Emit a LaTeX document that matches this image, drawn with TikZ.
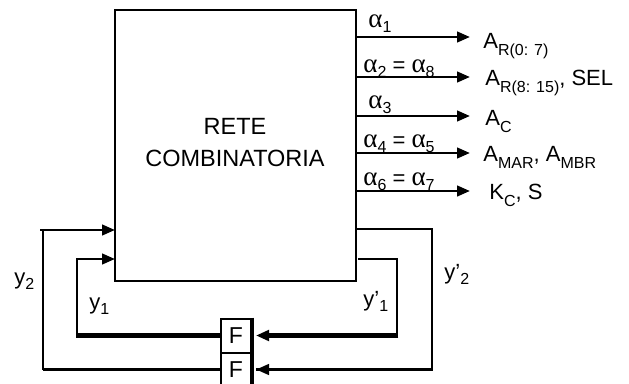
\documentclass[tikz,border=0pt]{standalone}
\usepackage{fontspec}
\setmainfont{Liberation Sans}
\newfontfamily\grkfont{Liberation Serif}
\usetikzlibrary{arrows.meta}
\newcommand\lowsub[2][7]{\raisebox{-#1pt}{\fontsize{16}{17}\selectfont #2}}
\newcommand\alf[1]{{\grkfont\fontsize{27}{28}\selectfont α}\lowsub[5]{#1}}
\begin{document}
\begin{tikzpicture}[x=1pt,y=-1pt,line width=2.8pt,
  >={Triangle[length=13pt,width=10.5pt]},
  lbl/.style={font=\fontsize{22}{25}\selectfont, inner sep=0pt},
  heavy/.style={line width=4.2pt},
  fbox/.style={draw, line width=2pt, minimum width=30pt, minimum height=34pt, inner sep=0pt, font=\fontsize{23}{24}\selectfont}]
\useasboundingbox (0,0) rectangle (629,383);

% main block
\node[draw, minimum width=241pt, minimum height=271pt, inner sep=0pt] (box) at (235.5,145.5) {};
\node[font=\fontsize{23.5}{32}\selectfont, align=center, inner sep=0pt] (title) at (235,143) {RETE\\COMBINATORIA};

% outputs
\foreach \i/\yy in {1/37,2/77,3/116,4/153,5/191}{
  \coordinate (os\i) at (356,\yy);
  \coordinate (oe\i) at (470,\yy);
  \draw[->] (os\i) -- (oe\i);
}
\node[lbl, anchor=base] (al1) at (380,27) {\alf{1}};
\node[lbl, anchor=base west] (al2) at (362,72) {\alf{2} = \alf{8}};
\node[lbl, anchor=base] (al3) at (380,108) {\alf{3}};
\node[lbl, anchor=base west] (al4) at (362,147) {\alf{4} = \alf{5}};
\node[lbl, anchor=base west] (al6) at (362,185) {\alf{6} = \alf{7}};

\node[lbl, anchor=base west] (r1) at (482,48) {A\lowsub{R(0: 7)}};
\node[lbl, anchor=base west] (r2) at (484,85) {A\lowsub{R(8: 15)}, SEL};
\node[lbl, anchor=base west] (r3) at (484,125) {A\lowsub{C}};
\node[lbl, anchor=base west] (r4) at (482,161) {A\lowsub{MAR}, A\lowsub{MBR}};
\node[lbl, anchor=base west] (r5) at (488,199) {K\lowsub{C}, S};

% flip-flops
\node[fbox] (f1) at (236,335.5) {F};
\node[fbox] (f2) at (236,369.5) {F};
\draw[heavy] (f1.north east) -- (f2.south east);

% feedback right side
\coordinate (yp2s) at (356,229);
\coordinate (yp2k) at (432,229);
\coordinate (yp1s) at (358,259);
\coordinate (yp1k) at (397,259);
\draw (yp2s) -- (yp2k) |- ([xshift=4pt]f2.east);
\draw[->] (yp2k |- f2.east) -- ([xshift=4pt]f2.east);
\draw (yp1s) -- (yp1k) -- (yp1k |- f1.east);
\draw[heavy,->] ([xshift=1.4pt]yp1k |- f1.east) -- ([xshift=4pt]f1.east);

% feedback left side
\coordinate (y1k) at (77,335.5);
\coordinate (y1e) at (115,259);
\coordinate (y2k) at (43,369.5);
\coordinate (y2e) at (115,230);
\draw[heavy] (f1.west) -- ([xshift=-1.4pt]y1k);
\draw[->] (y1k) |- (y1e);
\draw (f2.west) -- (y2k);
\draw[->] (y2k) |- (y2e);
\draw ([xshift=-3pt]y2k |- y2e) -- (y2k |- y2e);

% feedback labels
\node[lbl, anchor=base west] (ly2) at (13,284) {y\lowsub[5]{2}};
\node[lbl, anchor=base west] (ly1) at (88,309) {y\lowsub[5]{1}};
\node[lbl, anchor=base west] (lyp1) at (362,306) {y’\lowsub[5]{1}};
\node[lbl, anchor=base west] (lyp2) at (443,279) {y’\lowsub[5]{2}};
\end{tikzpicture}
\end{document}
